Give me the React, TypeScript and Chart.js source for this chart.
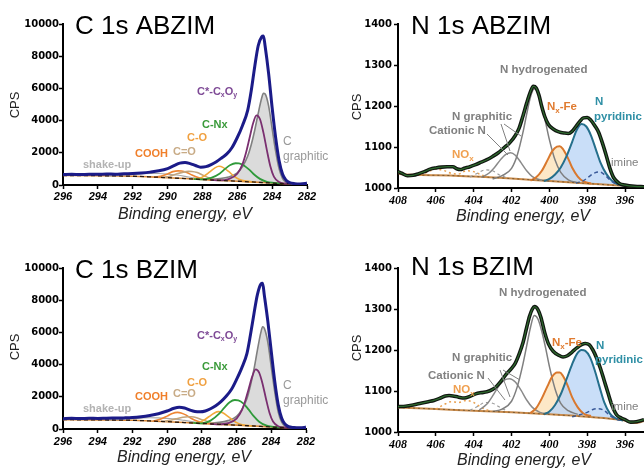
import React, { useEffect, useRef } from 'react';
import { Chart, registerables } from 'chart.js';

Chart.register(...registerables);

// ---------------- tick labels ----------------
const cTickX = [296, 294, 292, 290, 288, 286, 284, 282];
const cTickY = [0, 2000, 4000, 6000, 8000, 10000];
const nTickX = [408, 406, 404, 402, 400, 398, 396];
const nTickY = [1000, 1100, 1200, 1300, 1400];

// ---------------- C 1s ABZIM ----------------
const cEnvE = [296, 295.5, 295, 294.5, 294, 293.5, 293, 292.5, 292, 291.5, 291, 290.5, 290, 289.6, 289.3, 289, 288.7, 288.4, 288.1, 287.8, 287.5, 287.2, 286.9, 286.6, 286.3, 286, 285.7, 285.4, 285.2, 285, 284.8, 284.6, 284.5, 284.4, 284.2, 284, 283.8, 283.6, 283.4, 283.2, 283, 282.7, 282.4, 282.1, 282];
const cA_env = [650, 665, 645, 670, 660, 680, 675, 700, 710, 745, 800, 880, 1020, 1220, 1360, 1400, 1330, 1210, 1110, 1140, 1270, 1450, 1680, 1930, 2330, 2950, 3700, 4650, 5850, 7350, 8650, 9200, 9250, 8600, 6900, 4800, 2950, 1500, 660, 300, 150, 80, 60, 90, 120];
const cBaseE = [296, 294, 292, 291, 290, 289, 288, 287, 286, 285, 284, 283, 282];
const cA_base = [590, 575, 545, 505, 455, 400, 340, 285, 235, 180, 120, 80, 70];
const cGraE = [288, 287, 286.5, 286, 285.7, 285.4, 285.2, 285, 284.8, 284.6, 284.5, 284.4, 284.2, 284, 283.8, 283.6, 283.4, 283.2, 283, 282.6];
const cA_gra = [345, 400, 500, 760, 1150, 1800, 2500, 3400, 4450, 5400, 5700, 5650, 4900, 3500, 2100, 1000, 400, 170, 90, 72];
const cPurE = [287.5, 287, 286.5, 286, 285.7, 285.5, 285.3, 285.1, 284.9, 284.7, 284.5, 284.3, 284.1, 283.9, 283.6, 283.3, 283];
const cA_pur = [312, 287, 370, 700, 1300, 2000, 2900, 3800, 4330, 4100, 3250, 2150, 1150, 520, 180, 95, 80];
const cNxE = [288.5, 288, 287.5, 287, 286.7, 286.4, 286.1, 285.9, 285.6, 285.3, 285, 284.7, 284.3, 283.9, 283.5];
const cA_cnx = [370, 345, 440, 720, 1000, 1240, 1350, 1340, 1200, 940, 620, 380, 200, 135, 100];
const cCoE = [288.6, 288.2, 287.9, 287.6, 287.3, 287.05, 286.8, 286.5, 286.2, 285.9, 285.5, 285];
const cA_co = [375, 400, 560, 800, 1050, 1160, 1080, 840, 560, 360, 240, 180];
const cCdoE = [290.3, 289.9, 289.5, 289.1, 288.8, 288.6, 288.3, 288, 287.6, 287.2, 286.8];
const cA_cdo = [470, 530, 680, 800, 845, 840, 770, 620, 440, 330, 275];
const cCoohE = [290.8, 290.4, 290, 289.7, 289.4, 289.2, 288.9, 288.6, 288.2, 287.8, 287.4];
const cA_cooh = [480, 540, 690, 830, 880, 870, 780, 620, 450, 360, 300];
const cShkE = [293.5, 293, 292.5, 292, 291.5, 291, 290.5, 290, 289.5, 289, 288.5, 288];
const cA_shk = [560, 580, 620, 660, 700, 720, 715, 680, 620, 540, 440, 345];

// ---------------- C 1s BZIM ----------------
const cB_env = [640, 660, 645, 665, 655, 670, 680, 690, 710, 760, 840, 950, 1120, 1290, 1350, 1300, 1180, 1090, 1070, 1120, 1260, 1450, 1700, 2030, 2450, 3080, 3800, 4700, 5850, 7150, 8350, 9000, 9050, 8300, 6700, 4800, 2950, 1500, 660, 290, 140, 90, 70, 90, 120];
const cB_base = [580, 565, 540, 500, 455, 400, 345, 290, 240, 185, 125, 85, 72];
const cB_gra = [350, 410, 520, 780, 1200, 1900, 2700, 3700, 4900, 6000, 6350, 6250, 5400, 3850, 2300, 1050, 420, 180, 95, 75];
const cB_pur = [315, 290, 365, 650, 1150, 1750, 2500, 3250, 3700, 3500, 2800, 1850, 1000, 470, 175, 95, 80];
const cB_cnx = [375, 350, 520, 950, 1330, 1660, 1800, 1780, 1580, 1200, 780, 450, 220, 135, 100];
const cB_co = [380, 400, 540, 760, 980, 1080, 1010, 790, 530, 350, 235, 180];
const cB_cdo = [470, 520, 630, 730, 765, 760, 700, 580, 430, 330, 280];
const cB_cooh = [490, 600, 800, 970, 1030, 1000, 860, 650, 460, 360, 305];
const cB_shk = [555, 575, 610, 650, 680, 700, 695, 660, 610, 530, 440, 350];

// ---------------- N 1s ABZIM ----------------
const nA_envE = [408, 407.8, 407.5, 407.2, 406.9, 406.6, 406.3, 406, 405.7, 405.4, 405.1, 404.9, 404.7, 404.5, 404.2, 403.9, 403.6, 403.3, 403, 402.7, 402.4, 402.1, 401.8, 401.6, 401.4, 401.2, 401, 400.85, 400.7, 400.55, 400.4, 400.25, 400.05, 399.8, 399.5, 399.2, 399, 398.8, 398.6, 398.4, 398.2, 398, 397.8, 397.6, 397.4, 397.2, 397, 396.8, 396.6, 396.3, 396, 395.5, 395];
const nA_env = [1040, 1036, 1030, 1031, 1035, 1040, 1046, 1049, 1051, 1052, 1052, 1047, 1045, 1048, 1052, 1057, 1063, 1069, 1077, 1086, 1098, 1110, 1128, 1146, 1175, 1207, 1235, 1248, 1244, 1226, 1198, 1175, 1155, 1144, 1137, 1134, 1133, 1138, 1150, 1162, 1171, 1172, 1165, 1152, 1136, 1110, 1080, 1048, 1025, 1011, 1007, 1004, 1003];
const nA_baseE = [408, 407.9, 406, 404, 402, 400, 398, 396, 395];
const nA_base = [1038, 1034, 1031, 1028, 1023, 1017, 1011, 1005, 1003];
const nHydE = [403, 402.5, 402, 401.7, 401.4, 401.2, 401, 400.8, 400.6, 400.4, 400.2, 400, 399.7, 399.4, 399, 398.5];
const nA_hyd = [1022, 1030, 1048, 1080, 1135, 1180, 1222, 1242, 1232, 1200, 1160, 1118, 1068, 1038, 1020, 1013];
const nA_graE = [403.6, 403.2, 402.9, 402.6, 402.3, 402.05, 401.8, 401.5, 401.2, 400.9, 400.5, 400];
const nA_gra = [1026, 1036, 1050, 1068, 1082, 1086, 1080, 1062, 1042, 1028, 1020, 1017];
const nCatE = [404.2, 403.8, 403.4, 403, 402.6, 402.2];
const nA_cat = [1027, 1036, 1044, 1042, 1031, 1024];
const nA_noxE = [406.8, 406.4, 406, 405.6, 405.2, 404.8, 404.4, 404, 403.6, 403.2];
const nA_nox = [1031, 1040, 1046, 1043, 1036, 1034, 1042, 1040, 1032, 1026];
const nFeE = [401, 400.7, 400.4, 400.1, 399.85, 399.6, 399.45, 399.3, 399.05, 398.8, 398.5, 398.2, 397.8];
const nA_fe = [1018, 1026, 1042, 1068, 1090, 1101, 1102, 1096, 1076, 1050, 1028, 1016, 1011];
const nA_pyrE = [400.3, 400, 399.7, 399.4, 399.1, 398.8, 398.55, 398.3, 398.05, 397.8, 397.55, 397.3, 397, 396.7, 396.4, 396];
const nA_pyr = [1017, 1022, 1033, 1050, 1077, 1112, 1142, 1156, 1150, 1128, 1095, 1062, 1035, 1018, 1009, 1005];
const nA_imiE = [398.6, 398.2, 397.9, 397.6, 397.35, 397.1, 396.8, 396.5, 396.2];
const nA_imi = [1012, 1018, 1028, 1037, 1039, 1033, 1020, 1010, 1006];

// ---------------- N 1s BZIM ----------------
const nB_envE = [408, 407.6, 407.2, 406.8, 406.4, 406.1, 405.8, 405.5, 405.3, 405.1, 404.8, 404.5, 404.2, 403.9, 403.6, 403.3, 403, 402.8, 402.5, 402.3, 402, 401.8, 401.6, 401.4, 401.2, 401.05, 400.9, 400.78, 400.6, 400.45, 400.25, 400.05, 399.8, 399.5, 399.28, 399.05, 398.8, 398.55, 398.3, 398.1, 397.9, 397.7, 397.5, 397.3, 397.1, 396.9, 396.7, 396.45, 396.2, 396, 395.7, 395.4, 395];
const nB_env = [1062, 1063, 1066, 1070, 1074, 1077, 1082, 1088, 1089, 1088, 1085, 1083, 1087, 1093, 1096, 1098, 1104, 1111, 1127, 1140, 1155, 1168, 1190, 1217, 1255, 1282, 1300, 1306, 1298, 1280, 1243, 1215, 1197, 1187, 1183, 1186, 1195, 1205, 1213, 1216, 1213, 1200, 1180, 1155, 1125, 1095, 1066, 1042, 1034, 1030, 1024, 1025, 1030];
const nB_baseE = [408, 406, 404, 402, 400, 398, 396.5, 396, 395.6, 395.2, 395];
const nB_base = [1060, 1056, 1052, 1048, 1043, 1037, 1031, 1028, 1022, 1024, 1027];
const nB_hyd = [1050, 1056, 1075, 1110, 1165, 1210, 1255, 1284, 1275, 1245, 1205, 1160, 1105, 1070, 1052, 1043];
const nB_graE = [403.7, 403.3, 403, 402.7, 402.4, 402.1, 401.8, 401.5, 401.2, 400.9, 400.5, 400];
const nB_gra = [1054, 1068, 1088, 1110, 1126, 1130, 1122, 1102, 1078, 1060, 1048, 1044];
const nB_cat = [1053, 1062, 1072, 1070, 1060, 1050];
const nB_noxE = [406, 405.6, 405.2, 404.8, 404.4, 404, 403.6, 403.2];
const nB_nox = [1056, 1066, 1074, 1072, 1077, 1072, 1060, 1052];
const nB_fe = [1046, 1058, 1082, 1112, 1135, 1145, 1145, 1138, 1115, 1085, 1060, 1045, 1039];
const nB_pyrE = [400.3, 400, 399.7, 399.4, 399.1, 398.8, 398.55, 398.3, 398.1, 397.85, 397.6, 397.35, 397.1, 396.8, 396.5, 396.1];
const nB_pyr = [1043, 1050, 1066, 1092, 1128, 1165, 1190, 1200, 1198, 1182, 1150, 1110, 1072, 1045, 1033, 1028];
const nB_imiE = [398.8, 398.4, 398, 397.7, 397.4, 397.1, 396.8, 396.5, 396.2];
const nB_imi = [1037, 1042, 1048, 1055, 1057, 1052, 1040, 1032, 1028];

// ---------------- helpers ----------------
const SANS = '"Liberation Sans", Arial, sans-serif';

function pts(E: number[], I: number[]) {
  return E.map((x, i) => ({ x, y: I[i] }));
}

function ln(E: number[], I: number[], color: string, width: number, extra: any = {}) {
  return {
    data: pts(E, I),
    borderColor: color,
    backgroundColor: 'rgba(0,0,0,0)',
    borderWidth: width,
    pointRadius: 0,
    pointHoverRadius: 0,
    fill: false,
    cubicInterpolationMode: 'monotone',
    ...extra,
  };
}

type Part = { t: string; sub?: boolean };
type Item = any;

function txt(x: number, y: number, parts: Part[] | string, size: number, color: string, weight = 'normal', style = 'normal', align = 'left'): Item {
  return { k: 't', x, y, parts: typeof parts === 'string' ? [{ t: parts }] : parts, size, color, weight, style, align };
}

function textPlugin(items: Item[]) {
  return {
    id: 'panelText',
    afterDraw(chart: any) {
      const ctx = chart.ctx as CanvasRenderingContext2D;
      ctx.save();
      for (const it of items) {
        if (it.k === 'l') {
          ctx.strokeStyle = it.color;
          ctx.lineWidth = 1;
          ctx.beginPath();
          ctx.moveTo(it.x1, it.y1);
          ctx.lineTo(it.x2, it.y2);
          ctx.stroke();
        } else if (it.k === 'v') {
          ctx.save();
          ctx.translate(it.x, it.y);
          ctx.rotate(-Math.PI / 2);
          ctx.font = `${it.size}px ${SANS}`;
          ctx.fillStyle = it.color;
          ctx.textAlign = 'center';
          ctx.textBaseline = 'middle';
          ctx.fillText(it.t, 0, 0);
          ctx.restore();
        } else {
          const mk = (sub?: boolean) => `${it.style} ${it.weight} ${sub ? Math.round(it.size * 0.68) : it.size}px ${SANS}`;
          let w = 0;
          for (const p of it.parts) {
            ctx.font = mk(p.sub);
            w += ctx.measureText(p.t).width;
          }
          let x = it.align === 'center' ? it.x - w / 2 : it.x;
          ctx.textAlign = 'left';
          ctx.textBaseline = 'middle';
          ctx.fillStyle = it.color;
          for (const p of it.parts) {
            ctx.font = mk(p.sub);
            ctx.fillText(p.t, x, it.y + (p.sub ? it.size * 0.3 : 0));
            x += ctx.measureText(p.t).width;
          }
        }
      }
      ctx.restore();
    },
  };
}

type Geo = { left: number; top: number; W: number; H: number; L: number; R: number; T: number; B: number; xpad: number };

function buildScales(kind: 'C' | 'N', g: Geo) {
  const isC = kind === 'C';
  const xt = isC ? cTickX : nTickX;
  const yt = isC ? cTickY : nTickY;
  return {
    x: {
      type: 'linear',
      reverse: true,
      min: isC ? 282 : 395,
      max: isC ? 296 : 408,
      afterBuildTicks: (s: any) => { s.ticks = xt.map((v) => ({ value: v })); },
      afterFit: (s: any) => { s.height = g.H - g.B; },
      ticks: {
        autoSkip: false,
        maxRotation: 0,
        padding: g.xpad,
        color: '#000',
        font: { family: isC ? 'Liberation Sans' : 'Liberation Serif', size: isC ? 11 : 12, weight: 'bold', style: 'italic' },
        callback: (v: any) => String(v),
      },
      grid: { display: true, drawOnChartArea: false, drawTicks: true, tickLength: 4, tickColor: '#000', tickWidth: 1.5 },
      border: { display: true, color: '#000', width: 2 },
    },
    y: {
      type: 'linear',
      min: isC ? 0 : 1000,
      max: isC ? 10000 : 1400,
      afterBuildTicks: (s: any) => { s.ticks = yt.map((v) => ({ value: v })); },
      afterFit: (s: any) => { s.width = g.L; },
      ticks: {
        padding: isC ? 0 : 2,
        color: '#000',
        font: { family: 'DejaVu Sans', size: 10, weight: 'bold' },
        callback: (v: any) => String(v),
      },
      grid: { display: true, drawOnChartArea: false, drawTicks: true, tickLength: 4, tickColor: '#000', tickWidth: 1.5 },
      border: { display: true, color: '#000', width: 2 },
    },
  };
}

function cDatasets(env: number[], base: number[], pur: number[], cnx: number[], co: number[], cdo: number[], cooh: number[], gra: number[], shk: number[]) {
  return [
    ln(cEnvE, env, '#1b1b88', 3),
    ln(cBaseE, base, '#2a1a10', 1.3, { borderDash: [4, 3] }),
    ln(cPurE, pur, '#7a2f70', 1.8),
    ln(cNxE, cnx, '#2f9a3a', 1.8),
    ln(cCoE, co, '#f2a93b', 1.6),
    ln(cCdoE, cdo, '#c4a57c', 1.6),
    ln(cCoohE, cooh, '#ee8533', 1.6),
    ln(cGraE, gra, '#808080', 1.6, { fill: 9, backgroundColor: 'rgba(200,200,200,0.65)' }),
    ln(cShkE, shk, '#a8a8a8', 1.2),
    ln(cBaseE, base, '#d98a3a', 1.6),
  ];
}

function nDatasets(envE: number[], env: number[], baseE: number[], base: number[], imiE: number[], imi: number[], pyrE: number[], pyr: number[], fe: number[], hyd: number[], graE: number[], gra: number[], cat: number[], noxE: number[], nox: number[]) {
  return [
    ln(envE, env, '#2e6a2e', 1.2),
    ln(envE, env, '#101510', 3.6),
    ln(baseE, base, '#7a5a30', 1, { borderDash: [2, 3] }),
    ln(imiE, imi, '#3a5a9a', 1.5, { borderDash: [4, 3] }),
    ln(pyrE, pyr, '#256f8c', 2, { fill: 10, backgroundColor: 'rgba(188,214,246,0.8)' }),
    ln(nFeE, fe, '#d9782d', 2, { fill: 10, backgroundColor: 'rgba(253,226,185,0.8)' }),
    ln(nHydE, hyd, '#7f7f7f', 1.5),
    ln(graE, gra, '#8a8a8a', 1.5),
    ln(nCatE, cat, '#9a9a9a', 1.2, { borderDash: [3, 3] }),
    ln(noxE, nox, '#e8a050', 1.5, { borderDash: [2, 3] }),
    ln(baseE, base, '#c98a4a', 2),
  ];
}

const PURPLE = '#7e4a96';
const GRAY = '#808080';

function cItems(title: string, dy: number, xTitle: [number, number], cps: [number, number]): Item[] {
  return [
    txt(75, 27 + dy, title, 26, '#000'),
    txt(197, 92 + dy, [{ t: 'C*-C' }, { t: 'x', sub: true }, { t: 'O' }, { t: 'y', sub: true }], 11, PURPLE, 'bold'),
    txt(202, 125 + dy + (dy ? -2 : 0), [{ t: 'C-Nx' }], 11, '#3a9a3a', 'bold'),
    txt(187, 138 + dy + (dy ? 1 : 0), 'C-O', 11, '#f0a040', 'bold'),
    txt(173, 152 + dy - (dy ? 2 : 0), 'C=O', 11, '#c8ab86', 'bold'),
    txt(135, 154 + dy - (dy ? 1 : 0), 'COOH', 11, '#f07f2a', 'bold'),
    txt(83, 165 + dy, 'shake-up', 11, '#b3b3b3', 'bold'),
    txt(283, 142 + dy, 'C', 12, '#999999'),
    txt(283, 157 + dy, 'graphitic', 12, '#999999'),
    txt(xTitle[0], xTitle[1], 'Binding energy, eV', 16, '#222', 'normal', 'italic', 'center'),
    { k: 'v', x: cps[0], y: cps[1], t: 'CPS', size: 13, color: '#222' },
  ];
}

const c1Items = cItems('C 1s ABZIM', 0, [185, 215], [15, 105]);
const c2Items = cItems('C 1s BZIM', 8, [184, 222], [15, 111]);

const n1Items: Item[] = [
  txt(81, 27, 'N 1s ABZIM', 26, '#000'),
  txt(170, 70, 'N hydrogenated', 11.5, GRAY, 'bold'),
  txt(122, 117, 'N graphitic', 11.5, GRAY, 'bold'),
  txt(99, 131, 'Cationic N', 11.5, GRAY, 'bold'),
  txt(122, 155, [{ t: 'NO' }, { t: 'x', sub: true }], 11.5, '#f0a050', 'bold'),
  txt(217, 107, [{ t: 'N' }, { t: 'x', sub: true }, { t: '-Fe' }], 11.5, '#e07b30', 'bold'),
  txt(265, 102, 'N', 11.5, '#2e8fa5', 'bold'),
  txt(264, 117, 'pyridinic', 11.5, '#2e8fa5', 'bold'),
  txt(281, 163, 'imine', 11.5, GRAY),
  { k: 'l', x1: 157, y1: 134, x2: 178, y2: 155, color: GRAY },
  { k: 'l', x1: 171, y1: 124, x2: 180, y2: 151, color: GRAY },
  { k: 'l', x1: 174, y1: 124, x2: 191, y2: 136, color: GRAY },
  txt(193, 217, 'Binding energy, eV', 16, '#222', 'normal', 'italic', 'center'),
  { k: 'v', x: 27, y: 107, t: 'CPS', size: 13, color: '#222' },
];

const n2Items: Item[] = [
  txt(81, 32, 'N 1s BZIM', 26, '#000'),
  txt(169, 57, 'N hydrogenated', 11.5, GRAY, 'bold'),
  txt(122, 122, 'N graphitic', 11.5, GRAY, 'bold'),
  txt(98, 140, 'Cationic N', 11.5, GRAY, 'bold'),
  txt(123, 154, [{ t: 'NO' }, { t: 'x', sub: true }], 11.5, '#f0a050', 'bold'),
  txt(222, 107, [{ t: 'N' }, { t: 'x', sub: true }, { t: '-Fe' }], 11.5, '#e07b30', 'bold'),
  txt(266, 110, 'N', 11.5, '#2e8fa5', 'bold'),
  txt(265, 124, 'pyridinic', 11.5, '#2e8fa5', 'bold'),
  txt(281, 171, 'imine', 11.5, GRAY),
  { k: 'l', x1: 158, y1: 142, x2: 175, y2: 164, color: GRAY },
  { k: 'l', x1: 170, y1: 134, x2: 180, y2: 161, color: GRAY },
  { k: 'l', x1: 173, y1: 134, x2: 190, y2: 144, color: GRAY },
  txt(194, 225, 'Binding energy, eV', 16, '#222', 'normal', 'italic', 'center'),
  { k: 'v', x: 27, y: 112, t: 'CPS', size: 13, color: '#222' },
];

type PanelDef = { kind: 'C' | 'N'; g: Geo; datasets: any[]; items: Item[] };

const panels: PanelDef[] = [
  {
    kind: 'C',
    g: { left: 0, top: 0, W: 340, H: 236, L: 63, R: 307, T: 24, B: 185, xpad: 1 },
    datasets: cDatasets(cA_env, cA_base, cA_pur, cA_cnx, cA_co, cA_cdo, cA_cooh, cA_gra, cA_shk),
    items: c1Items,
  },
  {
    kind: 'N',
    g: { left: 330, top: 0, W: 314, H: 236, L: 68, R: 314, T: 24, B: 188, xpad: 2 },
    datasets: nDatasets(nA_envE, nA_env, nA_baseE, nA_base, nA_imiE, nA_imi, nA_pyrE, nA_pyr, nA_fe, nA_hyd, nA_graE, nA_gra, nA_cat, nA_noxE, nA_nox),
    items: n1Items,
  },
  {
    kind: 'C',
    g: { left: 0, top: 236, W: 340, H: 233, L: 63, R: 306, T: 32, B: 193, xpad: 2 },
    datasets: cDatasets(cB_env, cB_base, cB_pur, cB_cnx, cB_co, cB_cdo, cB_cooh, cB_gra, cB_shk),
    items: c2Items,
  },
  {
    kind: 'N',
    g: { left: 330, top: 236, W: 314, H: 233, L: 68, R: 314, T: 32, B: 196, xpad: 2 },
    datasets: nDatasets(nB_envE, nB_env, nB_baseE, nB_base, nB_imiE, nB_imi, nB_pyrE, nB_pyr, nB_fe, nB_hyd, nB_graE, nB_gra, nB_cat, nB_noxE, nB_nox),
    items: n2Items,
  },
];

function Panel({ p }: { p: PanelDef }) {
  const ref = useRef<HTMLCanvasElement>(null);
  useEffect(() => {
    const g = p.g;
    const chart = new Chart(ref.current as HTMLCanvasElement, {
      type: 'line',
      data: { datasets: p.datasets as any },
      options: {
        responsive: false,
        animation: false,
        devicePixelRatio: 1,
        layout: { padding: { left: 0, top: g.T, right: g.W - g.R, bottom: 0 } },
        scales: buildScales(p.kind, g) as any,
        plugins: {
          legend: { display: false },
          tooltip: { enabled: false },
          filler: { drawTime: 'beforeDatasetsDraw' },
        } as any,
        events: [],
      },
      plugins: [textPlugin(p.items)],
    });
    return () => chart.destroy();
  }, [p]);
  return (
    <canvas
      ref={ref}
      width={p.g.W}
      height={p.g.H}
      style={{ position: 'absolute', left: p.g.left, top: p.g.top, width: p.g.W, height: p.g.H }}
    />
  );
}

export default function App() {
  return (
    <div style={{ position: 'absolute', left: 0, top: 0, width: 644, height: 469, background: '#fff', overflow: 'hidden' }}>
      {panels.map((p, i) => (
        <Panel key={i} p={p} />
      ))}
    </div>
  );
}
